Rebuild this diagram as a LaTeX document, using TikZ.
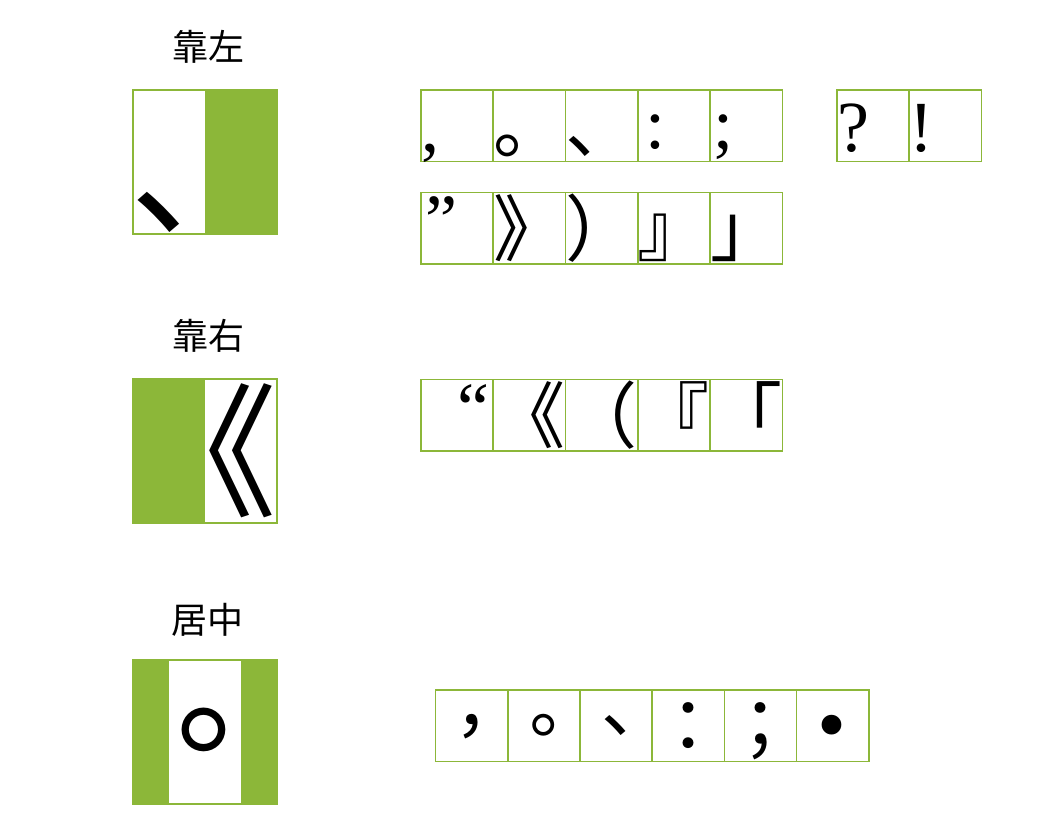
\documentclass[tikz,border=0pt]{standalone}
\usepackage{fontspec}
\setmainfont{Noto Sans CJK SC}
\newfontfamily\cjksc{Noto Sans CJK SC}
\newfontfamily\cjktc{Noto Sans CJK TC}
\newfontfamily\latserif{Liberation Serif}
\usetikzlibrary{calc}
\definecolor{gr}{RGB}{140,183,57}
\tikzset{
  cellbox/.style={draw=gr, line width=1.2pt, minimum width=54.2pt, minimum height=53.6pt, anchor=north west, inner sep=0pt, outer sep=0pt},
  glyph/.style={inner sep=0pt, outer sep=0pt, anchor=base west},
  sg/.style={glyph, font=\cjksc\fontsize{54pt}{54pt}\selectfont},
  tg/.style={glyph, font=\cjktc\fontsize{54pt}{54pt}\selectfont},
  lg/.style={glyph, font=\latserif\fontsize{54pt}{54pt}\selectfont},
  title/.style={inner sep=0pt, font=\fontsize{27pt}{27pt}\selectfont},
  bigbox/.style={draw=gr, line width=1.2pt, fill=white},
  bigfill/.style={fill=gr},
}
\begin{document}
\begin{tikzpicture}[x=0.75pt,y=-0.75pt]
\useasboundingbox (0,0) rectangle (1041,836);
% titles
\node[title] (t1) at (208,47) {靠左};
\node[title] (t2) at (208,336) {靠右};
\node[title] (t3) at (207,620) {居中};
% big boxes
\draw[bigbox] (133,90) rectangle (277,234);
\fill[bigfill] (205,90) rectangle (277,234);
\draw[gr, line width=1.2pt] (133,90) rectangle (277,234);
\node[glyph, font=\cjksc\fontsize{108pt}{108pt}\selectfont] (B1) at (130,224) {、};

\draw[bigbox] (133,379) rectangle (277,523);
\fill[bigfill] (133,379) rectangle (205,523);
\draw[gr, line width=1.2pt] (133,379) rectangle (277,523);
\node[glyph, font=\cjksc\fontsize{108pt}{108pt}\selectfont] (B2) at (133,505.7) {《};

\draw[bigbox] (133,660) rectangle (277,804);
\fill[bigfill] (133,660) rectangle (169,804);
\fill[bigfill] (241,660) rectangle (277,804);
\draw[gr, line width=1.2pt] (133,660) rectangle (277,804);
\node[glyph, font=\cjktc\fontsize{108pt}{108pt}\selectfont] (B3) at (131,784.7) {。};

% row 1 cells
\foreach \i in {0,...,4} \node[cellbox] (a\i) at ({421+72.3*\i},90) {};
\node[cellbox] (q0) at (837,90) {};
\node[cellbox] (q1) at (909.2,90) {};
% row 2
\foreach \i in {0,...,4} \node[cellbox] (b\i) at ({421+72.3*\i},192.5) {};
% row 3
\foreach \i in {0,...,4} \node[cellbox] (r\i) at ({421+72.3*\i},379.5) {};
% row 4
\foreach \i in {0,...,5} \node[cellbox] (m\i) at ({435.5+72.2*\i},690) {};

% row 1 glyphs
\node[lg] (g10) at (421,151) {,};
\node[sg] (g11) at ($(a1.south west)+(0,-8.64)$) {。};
\node[sg] (g12) at ($(a2.south west)+(0,-8.64)$) {、};
\node[lg] (g13) at (645,148) {:};
\node[lg] (g14) at (713.5,148) {;};
\node[lg] (g15) at (837,151) {?};
\node[lg] (g16) at (909.2,151) {!};

% row 2 glyphs
\node[lg] (g20) at (425,244) {”};
\node[sg] (g21) at ($(b1.south west)+(0,-8.64)$) {》};
\node[sg] (g22) at ($(b2.south west)+(0,-8.64)$) {）};
\node[sg] (g23) at ($(b3.south west)+(0,-8.64)$) {』};
\node[sg] (g24) at ($(b4.south west)+(0,-8.64)$) {」};

% row 3 glyphs
\node[lg, anchor=base east] (g30) at (489,432) {“};
\node[sg] (g31) at ($(r1.south west)+(0,-8.64)$) {《};
\node[sg] (g32) at ($(r2.south west)+(0,-8.64)$) {（};
\node[sg] (g33) at ($(r3.south west)+(0,-8.64)$) {『};
\node[sg] (g34) at ($(r4.south west)+(0,-8.64)$) {「};

% row 4 glyphs
\node[tg] (g40) at ($(m0.south west)+(0,-8.64)$) {，};
\node[tg] (g41) at ($(m1.south west)+(0,-8.64)$) {。};
\node[tg] (g42) at ($(m2.south west)+(0,-8.64)$) {、};
\node[tg] (g43) at ($(m3.south west)+(0,-8.64)$) {：};
\node[tg] (g44) at ($(m4.south west)+(0,-8.64)$) {；};
\node[inner sep=0pt, font=\latserif\fontsize{62pt}{62pt}\selectfont] (g45) at (832,734) {•};
\end{tikzpicture}
\end{document}
